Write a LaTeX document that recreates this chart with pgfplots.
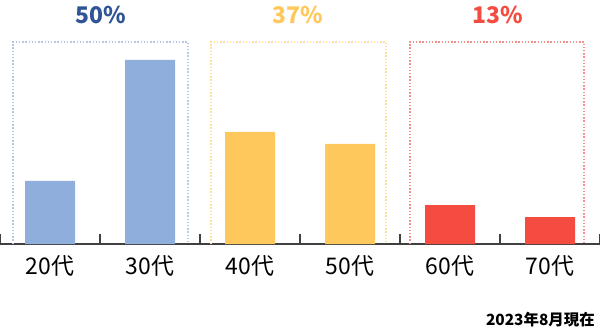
\documentclass[border=0pt]{standalone}
\usepackage{pgfplots}
\pgfplotsset{compat=1.18}
\usepackage{fontspec}
\setmainfont{Noto Sans CJK JP}
\definecolor{cblue}{HTML}{8FAEDC}
\definecolor{cyel}{HTML}{FFC85C}
\definecolor{cred}{HTML}{F44C40}
\definecolor{bblue}{HTML}{B4C7E7}
\definecolor{byel}{HTML}{FFDF9A}
\definecolor{bred}{HTML}{F4928C}
\definecolor{tblue}{HTML}{2F5597}
\definecolor{axgray}{HTML}{404040}
\begin{document}
\begin{tikzpicture}
\useasboundingbox (0,-88bp) rectangle (600bp,244bp);
\begin{axis}[
  at={(0,0)}, anchor=south west,
  scale only axis, width=600bp, height=244bp,
  xmin=-0.5, xmax=5.5, ymin=0, ymax=244,
  clip=false,
  axis y line=none, axis x line*=bottom,
  x axis line style={draw=axgray, line width=1.5bp},
  xtick={0,...,5},
  xticklabels={20代,30代,40代,50代,60代,70代},
  major tick length=0pt,
  minor xtick={-0.5,0.5,...,5.5},
  minor tick length=10bp,
  tick align=inside,
  tick style={draw=axgray, line width=1.5bp},
  xticklabel style={font=\fontsize{23}{23}\selectfont, text=black, yshift=-8bp},
]
\addplot[ybar, bar shift=0pt, bar width=0.5, fill=cblue, draw=none] coordinates {(0,63) (1,184)};
\addplot[ybar, bar shift=0pt, bar width=0.5, fill=cyel, draw=none] coordinates {(2,112) (3,100)};
\addplot[ybar, bar shift=0pt, bar width=0.5, fill=cred, draw=none] coordinates {(4,39) (5,27)};
\draw[bblue, line width=1.5bp, dash pattern=on 1.5bp off 1.7bp] (axis cs:-0.37,0) -- (axis cs:-0.37,202) -- (axis cs:1.38,202) -- (axis cs:1.38,0);
\draw[byel, line width=1.5bp, dash pattern=on 1.5bp off 1.7bp] (axis cs:1.61,0) -- (axis cs:1.61,202) -- (axis cs:3.36,202) -- (axis cs:3.36,0);
\draw[bred, line width=1.5bp, dash pattern=on 1.5bp off 1.7bp] (axis cs:3.60,0) -- (axis cs:3.60,202) -- (axis cs:5.34,202) -- (axis cs:5.34,0);
\node[text=tblue, font=\fontsize{23}{23}\selectfont\bfseries] at (axis cs:0.51,229) {50\%};
\node[text=cyel, font=\fontsize{23}{23}\selectfont\bfseries] at (axis cs:2.48,229) {37\%};
\node[text=cred, font=\fontsize{23}{23}\selectfont\bfseries] at (axis cs:4.48,229) {13\%};
\node[anchor=east, font=\fontsize{15.5}{15.5}\selectfont\bfseries, inner sep=0pt] at (axis cs:5.45,-76) {2023年8月現在};
\end{axis}
\end{tikzpicture}
\end{document}
